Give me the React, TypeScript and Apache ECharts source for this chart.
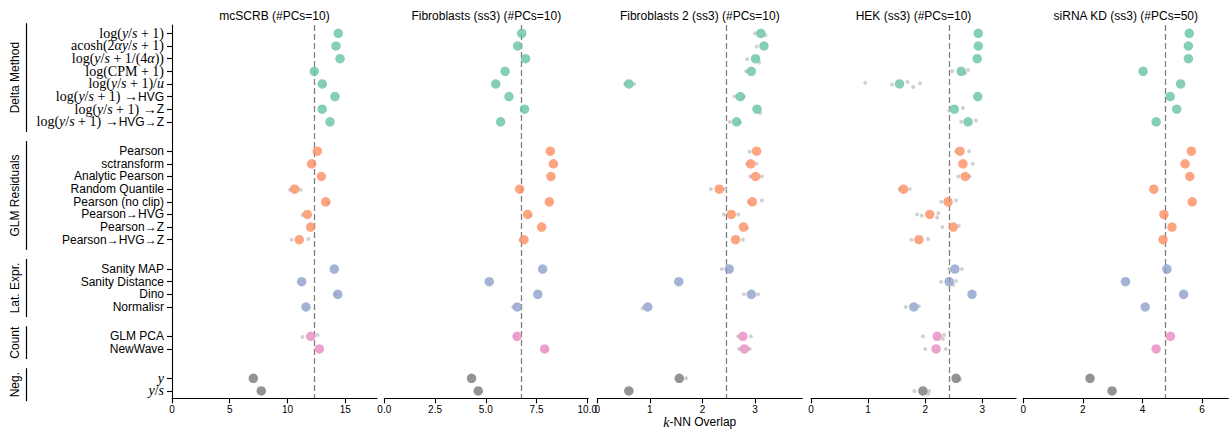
import React, { useEffect, useRef } from 'react';
import * as echarts from 'echarts';

// ---------------- data ----------------
const panelTitles = [
  'mcSCRB (#PCs=10)',
  'Fibroblasts (ss3) (#PCs=10)',
  'Fibroblasts 2 (ss3) (#PCs=10)',
  'HEK (ss3) (#PCs=10)',
  'siRNA KD (ss3) (#PCs=50)',
];

const groupNames = ['Delta Method', 'GLM Residuals', 'Lat. Expr.', 'Count', 'Neg.'];
const groupSizes = [8, 8, 4, 2, 2];
const groupColors = ['#66c2a5', '#fc8d62', '#8da0cb', '#e78ac3', '#787878'];

const logYS = '{r|log(}{i|y}{r|/}{i|s}{r| + 1)';
const methodLabels = [
  logYS + '}',
  '{r|acosh(2}{i|αy}{r|/}{i|s}{r| + 1)}',
  '{r|log(}{i|y}{r|/}{i|s}{r| + 1/(4}{i|α}{r|))}',
  '{r|log(CPM + 1)}',
  logYS + '/}{i|u}',
  logYS + ' →}{s|HVG}',
  logYS + ' →}{s|Z}',
  logYS + ' →}{s|HVG→Z}',
  '{s|Pearson}',
  '{s|sctransform}',
  '{s|Analytic Pearson}',
  '{s|Random Quantile}',
  '{s|Pearson (no clip)}',
  '{s|Pearson→HVG}',
  '{s|Pearson→Z}',
  '{s|Pearson→HVG→Z}',
  '{s|Sanity MAP}',
  '{s|Sanity Distance}',
  '{s|Dino}',
  '{s|Normalisr}',
  '{s|GLM PCA}',
  '{s|NewWave}',
  '{i|y}',
  '{i|y}{r|/}{i|s}',
];
const xAxisTitle = '{i|k}{s|-NN Overlap}';

// mean k-NN overlap per method (order as methodLabels)
const mcSCRB = [14.4, 14.2, 14.55, 12.32, 13.01, 14.11, 13.0, 13.68,
  12.58, 12.09, 12.93, 10.62, 13.31, 11.72, 12.01, 11.02,
  14.05, 11.23, 14.35, 11.6, 12.01, 12.76, 7.04, 7.73];
const fibroblasts = [6.77, 6.57, 6.96, 5.95, 5.49, 6.14, 6.91, 5.73,
  8.18, 8.33, 8.21, 6.67, 8.13, 7.06, 7.75, 6.88,
  7.8, 5.17, 7.56, 6.55, 6.54, 7.9, 4.3, 4.63];
const fibroblasts2 = [3.11, 3.17, 3.01, 2.93, 0.6, 2.72, 3.04, 2.65,
  3.03, 2.92, 3.01, 2.32, 2.95, 2.55, 2.78, 2.63,
  2.51, 1.55, 2.93, 0.96, 2.77, 2.8, 1.56, 0.6];
const hek = [2.93, 2.93, 2.91, 2.63, 1.55, 2.92, 2.51, 2.75,
  2.61, 2.66, 2.7, 1.62, 2.4, 2.08, 2.49, 1.89,
  2.52, 2.42, 2.82, 1.8, 2.21, 2.19, 2.54, 1.96];
const sirna = [5.57, 5.54, 5.54, 4.02, 5.28, 4.93, 5.15, 4.46,
  5.64, 5.43, 5.59, 4.38, 5.67, 4.72, 4.99, 4.69,
  4.82, 3.43, 5.38, 4.09, 4.94, 4.46, 2.24, 2.98];

// individual replicates that are visible: [method index, value, vertical jitter]
const mcSCRBReps = [[11, 10.22, 0.05], [11, 11.14, 0.05], [13, 11.3, 0.05], [15, 10.36, 0], [15, 11.8, -0.05],
  [20, 11.3, 0.05], [20, 12.6, -0.1], [12, 13.55, 0.1], [18, 14.1, 0], [4, 13.2, 0.1]];
const fibroblastsReps = [[15, 6.7, 0.05], [19, 6.35, 0], [20, 6.45, 0], [13, 7.2, 0.1], [21, 8.0, 0.1], [1, 6.75, 0]];
const fibroblasts2Reps = [[0, 3.0, 0], [0, 3.2, 0.15], [1, 3.03, 0.05], [2, 2.85, 0.05], [2, 3.08, 0.3], [3, 2.83, 0],
  [4, 0.53, 0], [4, 0.7, 0], [5, 2.61, 0], [5, 2.79, 0], [6, 3.1, 0.3], [7, 2.52, 0], [7, 2.71, 0.05],
  [8, 2.9, 0.05], [9, 3.03, 0], [9, 2.85, 0], [10, 2.91, 0], [10, 3.13, 0], [11, 2.16, 0], [11, 2.43, 0],
  [12, 2.88, 0], [12, 3.13, -0.1], [13, 2.41, 0], [13, 2.68, 0], [14, 2.85, 0.1], [15, 2.77, 0],
  [16, 2.37, 0], [18, 2.79, 0], [18, 3.06, 0], [19, 0.86, 0.1], [20, 2.68, 0], [20, 2.92, 0],
  [21, 2.7, 0], [21, 2.9, 0], [22, 1.69, 0]];
const hekReps = [[3, 2.47, 0], [3, 2.75, -0.1], [3, 2.7, 0.15], [4, 0.95, -0.1], [4, 1.42, 0.05], [4, 1.69, -0.15],
  [4, 1.79, 0.25], [4, 1.91, -0.05], [6, 2.42, 0.1], [6, 2.66, -0.1], [7, 2.63, 0], [7, 2.89, -0.1],
  [8, 2.54, 0], [8, 2.77, 0], [9, 2.83, 0], [10, 2.58, 0], [10, 2.78, 0], [11, 1.55, 0], [11, 1.73, 0],
  [12, 2.28, 0], [12, 2.54, -0.1], [13, 1.86, 0], [13, 1.94, 0.1], [13, 2.23, -0.1], [13, 2.21, 0.25],
  [14, 2.3, 0], [14, 2.59, -0.1], [15, 1.76, 0], [15, 2.05, -0.05], [16, 2.42, 0], [16, 2.64, 0],
  [17, 2.28, 0], [17, 2.54, -0.05], [17, 2.49, 0.25], [19, 1.66, 0], [19, 1.89, -0.05], [20, 1.96, 0],
  [20, 2.33, -0.1], [20, 2.31, 0.2], [21, 2.0, 0], [21, 2.36, 0], [22, 2.61, 0.1], [23, 1.81, 0],
  [23, 2.07, 0], [23, 2.05, 0.25]];
const sirnaReps: number[][] = [];

const refLines = [12.32, 6.77, 2.46, 2.42, 4.75];
const xMax = [17.75, 10.05, 3.9, 3.59, 6.88];
const xTicks = [[0, 5, 10, 15], [0, 2.5, 5, 7.5, 10], [0, 1, 2, 3], [0, 1, 2, 3], [0, 2, 4, 6]];
const tickDecimals = [0, 1, 0, 0, 0];

const panelValues = [mcSCRB, fibroblasts, fibroblasts2, hek, sirna];
const panelReps = [mcSCRBReps, fibroblastsReps, fibroblasts2Reps, hekReps, sirnaReps];

// ---------------- layout ----------------
const gridLeft = [172, 384.3, 597.3, 811, 1023.3];
const gridWidth = [205, 204, 205, 205, 205];
const gridTop = 25;
const gridHeight = 373.3;
const ROW_GAP = 2.32;
const yMin = -0.66;
const yMax = 28.86;

const SANS = 'Liberation Sans, Arial, Helvetica, sans-serif';
const SERIF = 'Liberation Serif, Times New Roman, serif';

const richStyles = {
  r: { fontFamily: SERIF, fontSize: 14, fill: '#000', color: '#000' },
  i: { fontFamily: SERIF, fontSize: 14, fontStyle: 'italic', fill: '#000', color: '#000' },
  s: { fontFamily: SANS, fontSize: 12, fill: '#000', color: '#000' },
};

export default function App() {
  const ref = useRef<HTMLDivElement>(null);

  useEffect(() => {
    if (!ref.current) return;
    const chart = echarts.init(ref.current, null, { renderer: 'svg' });

    const positions: number[] = [];
    const groupOfRow: number[] = [];
    let p = 0;
    groupSizes.forEach((n, g) => {
      if (g > 0) p += ROW_GAP - 1;
      for (let k = 0; k < n; k++) {
        positions.push(p);
        groupOfRow.push(g);
        p += 1;
      }
    });

    const grids = gridLeft.map((l, i) => ({
      left: l,
      top: gridTop,
      width: gridWidth[i],
      height: gridHeight,
      containLabel: false,
      outerBoundsMode: 'none',
    }));

    const xAxes = gridLeft.map((_, i) => ({
      type: 'value',
      gridIndex: i,
      min: 0,
      max: xMax[i],
      splitLine: { show: false },
      axisLine: { show: true, onZero: false, lineStyle: { color: '#000', width: 1.1 } },
      axisTick: { show: true, customValues: xTicks[i], length: 5, lineStyle: { color: '#000', width: 1.1 } },
      axisLabel: {
        customValues: xTicks[i],
        formatter: (v: number) => v.toFixed(tickDecimals[i]),
        fontSize: 10,
        fontFamily: SANS,
        color: '#000',
        margin: 6,
        showMinLabel: true,
        showMaxLabel: true,
      },
    }));

    const yAxes = gridLeft.map((_, i) => ({
      type: 'value',
      gridIndex: i,
      inverse: true,
      min: yMin,
      max: yMax,
      show: i === 0,
      splitLine: { show: false },
      axisLine: { show: true, onZero: false, lineStyle: { color: '#000', width: 1.1 } },
      axisTick: { show: true, customValues: positions, length: 5, lineStyle: { color: '#000', width: 1.1 } },
      axisLabel: { show: false },
    }));

    const series: any[] = [];
    panelValues.forEach((vals, i) => {
      series.push({
        type: 'scatter',
        xAxisIndex: i,
        yAxisIndex: i,
        z: 3,
        symbolSize: 4,
        silent: true,
        itemStyle: { color: '#cccccc', opacity: 0.9 },
        data: panelReps[i].map(([m, v, j]) => [v, positions[m] + j]),
        markLine: {
          z: 1,
          silent: true,
          symbol: ['none', 'none'],
          label: { show: false },
          lineStyle: { type: [6, 3], color: '#7f7f7f', width: 1.3 },
          data: [{ xAxis: refLines[i] }],
        },
      });
      series.push({
        type: 'scatter',
        xAxisIndex: i,
        yAxisIndex: i,
        z: 4,
        symbolSize: 9.5,
        silent: true,
        data: vals.map((v, k) => ({
          value: [v, positions[k]],
          itemStyle: { color: groupColors[groupOfRow[k]] },
        })),
      });
    });

    const titles = panelTitles.map((t, i) => ({
      text: t,
      left: gridLeft[i] + gridWidth[i] / 2,
      top: 10,
      padding: 0,
      textAlign: 'center',
      textStyle: { fontSize: 12, fontWeight: 'normal', fontFamily: SANS, color: '#000' },
    }));

    chart.setOption({
      animation: false,
      backgroundColor: '#fff',
      title: titles,
      grid: grids,
      xAxis: xAxes,
      yAxis: yAxes,
      series,
    });

    const toPx = (v: number) => chart.convertToPixel({ gridIndex: 0 }, [0, v]) as number[];

    const graphics: any[] = [];
    // method labels placed on the y axis ticks
    positions.forEach((pos, k) => {
      const [ax, py] = toPx(pos);
      graphics.push({
        type: 'text',
        silent: true,
        x: ax - 8,
        y: py,
        style: {
          text: methodLabels[k],
          rich: richStyles,
          fontSize: 12,
          fontFamily: SANS,
          fill: '#000',
          align: 'right',
          verticalAlign: 'middle',
        },
      });
    });

    // group brackets and labels
    let start = 0;
    groupSizes.forEach((n, g) => {
      const ya = toPx(positions[start] - 0.8)[1];
      const yb = toPx(positions[start + n - 1] + 0.8)[1];
      graphics.push({
        type: 'line',
        silent: true,
        shape: { x1: 26.5, y1: ya, x2: 26.5, y2: yb },
        style: { stroke: '#000', lineWidth: 1.2 },
      });
      graphics.push({
        type: 'text',
        silent: true,
        x: 15,
        y: (ya + yb) / 2,
        rotation: Math.PI / 2,
        style: {
          text: groupNames[g],
          fontSize: 12,
          fontFamily: SANS,
          fill: '#000',
          align: 'center',
          verticalAlign: 'middle',
        },
      });
      start += n;
    });

    // shared x axis title under the middle panel
    const bottom = toPx(yMax)[1];
    graphics.push({
      type: 'text',
      silent: true,
      x: gridLeft[2] + gridWidth[2] / 2,
      y: bottom + 24,
      style: {
        text: xAxisTitle,
        rich: richStyles,
        fontSize: 12,
        fontFamily: SANS,
        fill: '#000',
        align: 'center',
        verticalAlign: 'middle',
      },
    });

    chart.setOption({ graphic: graphics });

    return () => chart.dispose();
  }, []);

  return (
    <div
      ref={ref}
      style={{ position: 'absolute', left: 0, top: 0, width: 1231, height: 431 }}
    />
  );
}
